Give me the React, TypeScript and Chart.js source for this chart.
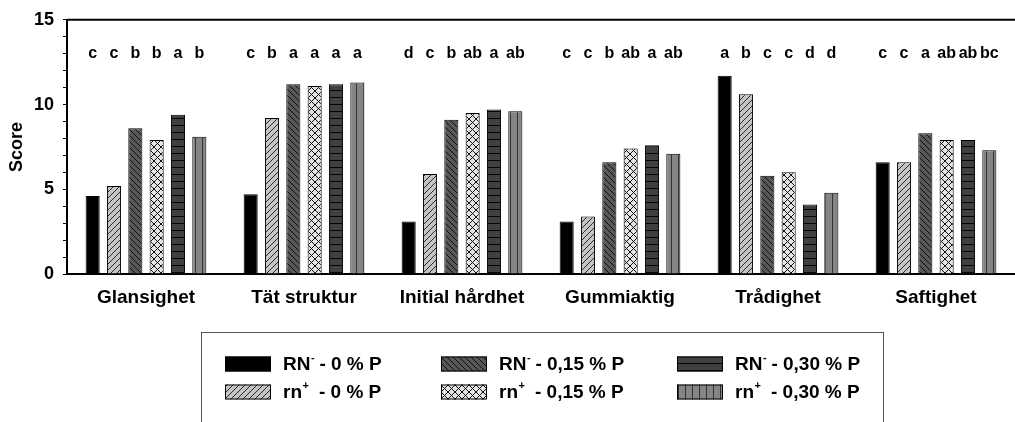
import { useEffect, useRef } from "react";
import { Chart, registerables } from "chart.js";

Chart.register(...registerables);

const categories = ["Glansighet", "Tät struktur", "Initial hårdhet", "Gummiaktig", "Trådighet", "Saftighet"];

const rnMinus0 = [4.6, 4.7, 3.1, 3.1, 11.7, 6.6];
const rnPlus0 = [5.2, 9.2, 5.9, 3.4, 10.6, 6.6];
const rnMinus015 = [8.6, 11.2, 9.1, 6.6, 5.8, 8.3];
const rnPlus015 = [7.9, 11.1, 9.5, 7.4, 6.0, 7.9];
const rnMinus030 = [9.4, 11.2, 9.7, 7.6, 4.1, 7.9];
const rnPlus030 = [8.1, 11.3, 9.6, 7.1, 4.8, 7.3];

const lettersRnMinus0 = ["c", "c", "d", "c", "a", "c"];
const lettersRnPlus0 = ["c", "b", "c", "c", "b", "c"];
const lettersRnMinus015 = ["b", "a", "b", "b", "c", "a"];
const lettersRnPlus015 = ["b", "a", "ab", "ab", "c", "ab"];
const lettersRnMinus030 = ["a", "a", "a", "a", "d", "ab"];
const lettersRnPlus030 = ["b", "a", "ab", "ab", "d", "bc"];

const seriesBase = ["RN", "rn", "RN", "rn", "RN", "rn"];
const seriesSup = ["-", "+", "-", "+", "-", "+"];
const seriesRest = [" - 0 % P", "  - 0 % P", " - 0,15 % P", "  - 0,15 % P", " - 0,30 % P", "  - 0,30 % P"];

const yTicksMin = 0;
const yTicksMax = 15;
const letterLevel = 13;

const FONT = "'Liberation Sans', Arial, Helvetica, sans-serif";

function makePattern(kind: string, bg: string, fg: string): CanvasPattern | string {
  if (kind === "solid") return bg;
  const s = kind === "h" || kind === "v" || kind === "x" ? 7 : 6;
  const c = document.createElement("canvas");
  c.width = s;
  c.height = s;
  const g = c.getContext("2d")!;
  g.fillStyle = bg;
  g.fillRect(0, 0, s, s);
  g.strokeStyle = fg;
  g.lineWidth = 1;
  g.beginPath();
  if (kind === "/" || kind === "x") {
    g.moveTo(-1, s + 1); g.lineTo(s + 1, -1);
    g.moveTo(-1, 1); g.lineTo(1, -1);
    g.moveTo(s - 1, s + 1); g.lineTo(s + 1, s - 1);
  }
  if (kind === "\\" || kind === "x") {
    g.moveTo(-1, -1); g.lineTo(s + 1, s + 1);
    g.moveTo(s - 1, -1); g.lineTo(s + 1, 1);
    g.moveTo(-1, s - 1); g.lineTo(1, s + 1);
  }
  if (kind === "h") { g.moveTo(0, s - 0.5); g.lineTo(s, s - 0.5); }
  if (kind === "v") { g.moveTo(s - 0.5, 0); g.lineTo(s - 0.5, s); }
  g.stroke();
  return g.createPattern(c, "repeat")!;
}

export default function App() {
  const ref = useRef<HTMLCanvasElement | null>(null);

  useEffect(() => {
    const canvas = ref.current;
    if (!canvas) return;
    const series = [rnMinus0, rnPlus0, rnMinus015, rnPlus015, rnMinus030, rnPlus030];
    const letters = [lettersRnMinus0, lettersRnPlus0, lettersRnMinus015, lettersRnPlus015, lettersRnMinus030, lettersRnPlus030];
    const fills = [
      makePattern("solid", "#000000", "#000"),
      makePattern("/", "#c4c4c4", "#2a2a2a"),
      makePattern("\\", "#585858", "#111111"),
      makePattern("x", "#e4e4e4", "#111111"),
      makePattern("h", "#404040", "#050505"),
      makePattern("v", "#858585", "#333333"),
    ];

    const overlay = {
      id: "overlay",
      afterDraw(chart: any) {
        const ctx = chart.ctx;
        const area = chart.chartArea;
        const yScale = chart.scales.y;
        ctx.save();
        ctx.strokeStyle = "#000";
        ctx.lineWidth = 2;
        ctx.beginPath();
        ctx.moveTo(area.left, area.top);
        ctx.lineTo(area.right, area.top);
        ctx.stroke();

        ctx.fillStyle = "#000";
        ctx.font = `bold 16px ${FONT}`;
        ctx.textAlign = "center";
        ctx.textBaseline = "middle";
        const ly = yScale.getPixelForValue(letterLevel);
        series.forEach((_, i) => {
          const meta = chart.getDatasetMeta(i);
          meta.data.forEach((bar: any, j: number) => {
            ctx.fillText(letters[i][j], bar.x, ly);
          });
        });

        ctx.strokeStyle = "#555";
        ctx.lineWidth = 1;
        ctx.strokeRect(201.5, 332.5, 682, 150);
        const colX = [225, 441, 677];
        const rowY = [364, 392];
        series.forEach((_, i) => {
          const col = Math.floor(i / 2);
          const row = i % 2;
          const x = colX[col];
          const y = rowY[row];
          ctx.fillStyle = fills[i] as any;
          ctx.fillRect(x, y - 7.5, 46, 15);
          ctx.strokeStyle = "#000";
          ctx.lineWidth = 1;
          ctx.strokeRect(x + 0.5, y - 7, 45, 14);
          ctx.fillStyle = "#000";
          ctx.textAlign = "left";
          ctx.textBaseline = "middle";
          let tx = x + 58;
          ctx.font = `bold 19px ${FONT}`;
          ctx.fillText(seriesBase[i], tx, y + 1);
          tx += ctx.measureText(seriesBase[i]).width;
          ctx.font = `bold 11px ${FONT}`;
          ctx.fillText(seriesSup[i], tx + 0.5, y - 6);
          tx += ctx.measureText(seriesSup[i]).width;
          ctx.font = `bold 19px ${FONT}`;
          ctx.fillText(seriesRest[i], tx, y + 1);
        });
        ctx.restore();
      },
    };

    const chart = new Chart(canvas, {
      type: "bar",
      data: {
        labels: categories,
        datasets: series.map((d, i) => ({
          label: seriesBase[i] + seriesSup[i] + seriesRest[i],
          data: d,
          backgroundColor: fills[i] as any,
          borderColor: "#000",
          borderWidth: 1,
          categoryPercentage: 0.81,
          barPercentage: 0.66,
        })),
      },
      options: {
        animation: false,
        responsive: false,
        layout: { padding: { top: 19, left: 0, right: 0, bottom: 0 } },
        plugins: { legend: { display: false }, tooltip: { enabled: false } },
        scales: {
          x: {
            grid: { display: false, drawTicks: false },
            border: { display: true, color: "#000", width: 2 },
            ticks: {
              color: "#000",
              font: { family: FONT, size: 19, weight: "bold" },
              padding: 12,
              maxRotation: 0,
              autoSkip: false,
            },
            afterFit: (s: any) => { s.height = 148; },
          },
          y: {
            min: yTicksMin,
            max: yTicksMax,
            ticks: {
              stepSize: 1,
              autoSkip: false,
              callback: (v: any) => (Number(v) % 5 === 0 ? String(v) : ""),
              color: "#000",
              font: { family: FONT, size: 18, weight: "bold" },
              padding: 9,
            },
            grid: { display: true, drawOnChartArea: false, drawTicks: true, tickLength: 4, color: "#000" },
            border: { display: true, color: "#000", width: 2 },
            title: {
              display: true,
              text: "Score",
              color: "#000",
              font: { family: FONT, size: 18, weight: "bold" },
              padding: { top: 6, bottom: 0 },
            },
            afterFit: (s: any) => { s.width = 67; },
          },
        },
      },
      plugins: [overlay],
    });
    return () => chart.destroy();
  }, []);

  return (
    <div style={{ position: "absolute", left: 0, top: 0, width: 1015, height: 422, background: "#fff" }}>
      <canvas ref={ref} width={1015} height={422} />
    </div>
  );
}
